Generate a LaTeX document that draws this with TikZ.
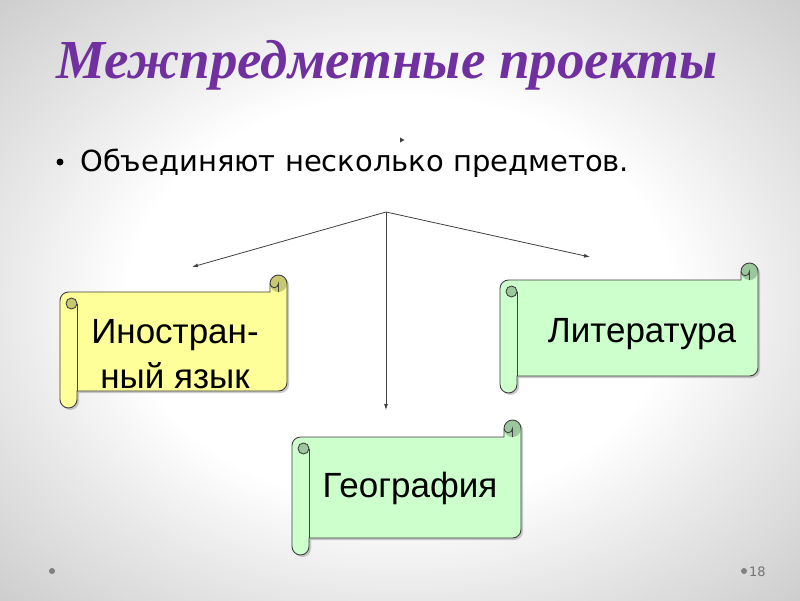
\documentclass[tikz,border=0pt]{standalone}
\usepackage{fontspec}
\setmainfont{Liberation Serif}
\newfontfamily\arialf{Liberation Sans}
\newfontfamily\gothf{DejaVu Sans}
\usetikzlibrary{arrows.meta}
\definecolor{titlec}{HTML}{7030A0}
\definecolor{ylw}{HTML}{FFFF99}
\definecolor{ylwd}{HTML}{C8C870}
\definecolor{grn}{HTML}{CCFFCC}
\definecolor{grnd}{HTML}{9CC79C}
\definecolor{edgec}{HTML}{404040}
\pgfdeclareradialshading{bgshade}{\pgfpoint{0bp}{0bp}}{color(0bp)=(white); color(17bp)=(white); color(25bp)=(black!9); color(36bp)=(black!20); color(50bp)=(black!20)}
\newcommand{\scrollpathcmd}[5]{\path[#5] (#3,#2+8.5) -- (#3,#4-25.5) arc[start angle=0,end angle=-90,radius=8.5pt] -- (#1+17,#4-17) -- (#1+17,#4-8.5) arc[start angle=0,end angle=-180,radius=8.5pt] -- (#1,#2+25.5) arc[start angle=180,end angle=90,radius=8.5pt] -- (#3-17,#2+17) -- (#3-17,#2+8.5) arc[start angle=180,end angle=0,radius=8.5pt] -- cycle;}
\newcommand{\myscroll}[6]{%
  \scrollpathcmd{#1}{#2}{#3}{#4}{fill=black!45,opacity=.45,shift={(2,2)}}
  \scrollpathcmd{#1}{#2}{#3}{#4}{fill=#5}
  \fill[#6] (#3-8.5,#2+8.5) circle[radius=8.5pt];
  \draw[scrollline] (#3-8.5,#2+17) -- (#3-8.5,#2+8.5) arc[start angle=0,end angle=-180,radius=4.25pt];
  \filldraw[fill=#6,scrollline] (#1+11.5,#2+28.5) circle[radius=5.5pt];
  \draw[scrollline] (#1+17,#2+28.5) -- (#1+17,#4-17);
  \scrollpathcmd{#1}{#2}{#3}{#4}{scrollline}
}
\begin{document}
\begin{tikzpicture}[x=1pt,y=-1pt,
  scrollline/.style={draw=edgec,line width=0.9pt},
  conn/.style={draw=edgec,line width=0.8pt,-{Latex[length=6pt,width=4pt]}},
  scrolltext/.style={font=\arialf\fontsize{35}{45}\selectfont,text=black,align=center},
  ]
\useasboundingbox (0,0) rectangle (800,600);
\shade[shading=bgshade] (0,0) rectangle (800,600);

% title
\node[anchor=base west,inner sep=0pt,text=titlec,font=\bfseries\itshape\fontsize{55}{55}\selectfont] (title) at (56,78) {Межпредметные проекты};

% bullet
\fill[black] (60,162) circle[radius=3.5pt];
\node[anchor=base west,inner sep=0pt,font=\gothf\fontsize{29}{29}\selectfont] (bul) at (80,171) {Объединяют несколько предметов.};
\fill[edgec] (400,137.5) -- (404.5,140) -- (400,142.5) -- cycle;

% scrolls
\myscroll{60}{275}{287}{408}{ylw}{ylwd}
\myscroll{500}{263}{758}{393}{grn}{grnd}
\myscroll{292}{420}{521}{555}{grn}{grnd}

\node[scrolltext,anchor=center] (lang) at (175,354) {Иностран-\\ный язык};
\node[scrolltext,anchor=base] (lit) at (642,342) {Литература};
\node[scrolltext,anchor=base] (geo) at (410,497) {География};

% connectors
\coordinate (hub) at (386,212);
\coordinate (e1) at (192,267);
\coordinate (e2) at (590,257);
\coordinate (e3) at (386,410);
\draw[conn] (hub) -- (e1);
\draw[conn] (hub) -- (e2);
\draw[conn] (hub) -- (e3);

% footer
\fill[black!50] (52,571) circle[radius=3pt];
\fill[black!50] (744,571) circle[radius=3pt];
\node[anchor=base west,inner sep=0pt,text=black!55,font=\gothf\fontsize{13}{13}\selectfont] (pnum) at (749,576) {18};
\end{tikzpicture}
\end{document}
